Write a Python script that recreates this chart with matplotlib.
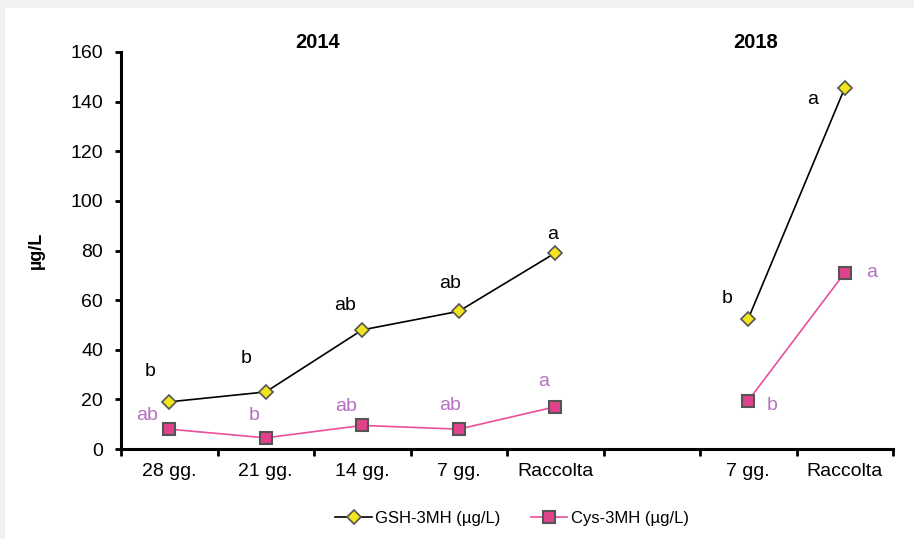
import matplotlib.pyplot as plt
from matplotlib.patches import Rectangle

plt.rcParams['font.family'] = ['Liberation Sans', 'DejaVu Sans']

# categories (slot 5 is the empty gap between the two years)
cats = ['28 gg.', '21 gg.', '14 gg.', '7 gg.', 'Raccolta', '', '7 gg.', 'Raccolta']
pos_2014 = [0, 1, 2, 3, 4]
pos_2018 = [6, 7]

gsh_2014 = [19, 23, 48, 55.5, 79]
gsh_2018 = [52.5, 145.5]
cys_2014 = [8, 4.5, 9.5, 8, 17]
cys_2018 = [19.5, 71]

gsh_letters = ['b', 'b', 'ab', 'ab', 'a', 'b', 'a']
cys_letters = ['ab', 'b', 'ab', 'ab', 'a', 'b', 'a']
# label offsets in pixels from each point
gsh_off = [(-19, 30), (-20, 33), (-17, 24), (-9, 28), (-3, 18), (-21, 20), (-32, -12)]
cys_off = [(-22, 14), (-12, 22), (-16, 19), (-9, 24), (-12, 25), (24, -5), (27, 0)]

fig = plt.figure(figsize=(9.14, 5.39), dpi=100, facecolor='#f2f1ef')
fig.patches.append(Rectangle((5/914, 0), 1, 1 - 8/539, transform=fig.transFigure,
                             facecolor='white', edgecolor='none', zorder=-1))
ax = fig.add_axes([121/914, 1 - 449/539, 772/914, 397/539])
ax.set_facecolor('none')

dia = dict(marker='D', markersize=7, markerfacecolor='#f2e41e', markeredgecolor='#555555', markeredgewidth=1.2)
sq = dict(marker='s', markersize=9, markerfacecolor='#e2428c', markeredgecolor='#555555', markeredgewidth=1.5)

ax.plot(pos_2014, gsh_2014, color='black', lw=1.2, label='GSH-3MH (µg/L)', **dia)
ax.plot(pos_2018, gsh_2018, color='black', lw=1.2, **dia)
ax.plot(pos_2014, cys_2014, color='#ea4f9c', lw=1.2, label='Cys-3MH (µg/L)', **sq)
ax.plot(pos_2018, cys_2018, color='#ea4f9c', lw=1.2, **sq)

xs = pos_2014 + pos_2018
for x, y, t, o in zip(xs, gsh_2014 + gsh_2018, gsh_letters, gsh_off):
    ax.annotate(t, (x, y), xytext=o, textcoords='offset pixels', ha='center', va='center',
                fontsize=14, color='black')
for x, y, t, o in zip(xs, cys_2014 + cys_2018, cys_letters, cys_off):
    ax.annotate(t, (x, y), xytext=o, textcoords='offset pixels', ha='center', va='center',
                fontsize=14, color='#b472c0')

ax.annotate('2014', (1.54, 1.023), xycoords=('data', 'axes fraction'), ha='center', va='center',
            fontsize=14.5, fontweight='bold')
ax.annotate('2018', (6.08, 1.023), xycoords=('data', 'axes fraction'), ha='center', va='center',
            fontsize=14.5, fontweight='bold')

ax.set_xlim(-0.5, 7.5)
ax.set_ylim(0, 160)
ax.set_yticks(range(0, 161, 20))
ax.set_xticks(range(len(cats)))
ax.set_xticklabels(cats)
ax.set_xticks([i - 0.5 for i in range(len(cats) + 1)], minor=True)
ax.tick_params(axis='x', which='major', length=0, pad=10, labelsize=14)
ax.tick_params(axis='x', which='minor', length=5, width=2)
ax.tick_params(axis='y', length=4, width=2, labelsize=14, pad=9)
ax.spines['top'].set_visible(False)
ax.spines['right'].set_visible(False)
ax.spines['left'].set_linewidth(2.2)
ax.spines['bottom'].set_linewidth(2.2)
ax.set_ylabel('µg/L', fontsize=13, fontweight='bold', labelpad=18)

fig.legend(loc='center', bbox_to_anchor=(512/914, 1 - 518/539), ncol=2, frameon=False,
           fontsize=12, handlelength=2.2, columnspacing=1.8, handletextpad=0.2)

fig.savefig('out.png', dpi=100, facecolor=fig.get_facecolor())
